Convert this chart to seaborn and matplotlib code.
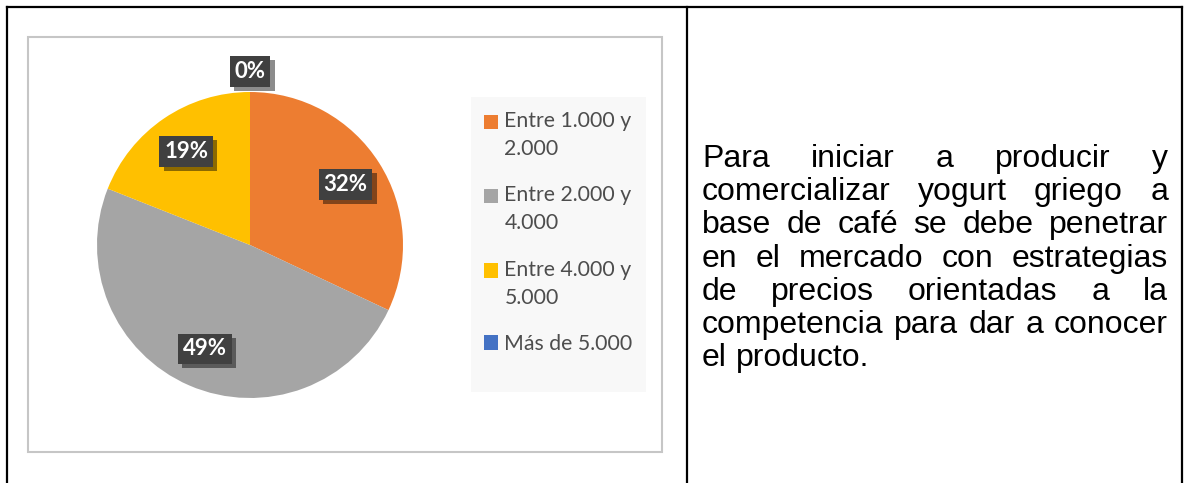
import matplotlib
matplotlib.use("Agg")
import matplotlib.pyplot as plt
import matplotlib.patheffects as pe
from matplotlib.patches import Rectangle
from matplotlib.lines import Line2D
import seaborn as sns
import numpy as np

# %% Data
categories = ["Entre 1.000 y\n2.000", "Entre 2.000 y\n4.000",
              "Entre 4.000 y\n5.000", "Más de 5.000"]
percentages = [32, 49, 19, 0]
slice_colors = ["#ED7D31", "#A5A5A5", "#FFC000", "#4472C4"]
paragraph_lines = ["Para iniciar a producir y",
                   "comercializar yogurt griego a",
                   "base de café se debe penetrar",
                   "en el mercado con estrategias",
                   "de precios orientadas a la",
                   "competencia para dar a conocer",
                   "el producto."]

# %% Figure setup
W, H = 1185, 483
sns.set_theme(style="white")
plt.rcParams['font.family'] = ['Lato', 'DejaVu Sans']
fig = plt.figure(figsize=(W / 100, H / 100), dpi=100)
fig.patch.set_facecolor("white")

def fx(px):  # pixel -> figure fraction (x)
    return px / W

def fy(py):  # pixel from top -> figure fraction (y)
    return 1 - py / H

# Table borders (black) and chart frame (gray)
for x0, y0, x1, y1 in [(6.5, 6.5, 1182, 6.5), (6.5, 6.5, 6.5, H),
                       (686.5, 6.5, 686.5, H), (1182, 6.5, 1182, H)]:
    fig.add_artist(Line2D([fx(x0), fx(x1)], [fy(y0), fy(y1)], color="black",
                          lw=1.6, transform=fig.transFigure, solid_capstyle="projecting"))
fig.add_artist(Rectangle((fx(28), fy(452)), fx(662) - fx(28), fy(37) - fy(452),
                         transform=fig.transFigure, fill=False, ec="#c6c6c6", lw=1.5))
# legend background
fig.add_artist(Rectangle((fx(471), fy(392)), fx(646) - fx(471), fy(97) - fy(392),
                         transform=fig.transFigure, fc="#f8f8f8", ec="none", zorder=0))

# %% Pie
R = 153
cx, cy = 250, 245
ax = fig.add_axes([fx(cx - 1.2 * R), fy(cy + 1.2 * R), 2.4 * R / W, 2.4 * R / H])
wedges, texts, autotexts = ax.pie(percentages, colors=slice_colors, startangle=90,
                                  counterclock=False, autopct='%1.0f%%',
                                  pctdistance=0.74, wedgeprops=dict(linewidth=0),
                                  textprops=dict(color="white", fontsize=16,
                                                 fontweight="bold"))
ax.set_xlim(-1.2, 1.2)
ax.set_ylim(-1.2, 1.2)
ax.axis("off")

for w, t, v in zip(wedges, autotexts, percentages):
    if v < 3:
        ang = np.deg2rad((w.theta1 + w.theta2) / 2)
        t.set_position((1.135 * np.cos(ang), 1.135 * np.sin(ang)))
    t.set_bbox(dict(boxstyle="square,pad=0.22", fc="#404040", ec="none"))
    t.get_bbox_patch().set_path_effects([
        pe.SimplePatchShadow(offset=(3, -3), shadow_rgbFace="black", alpha=0.45),
        pe.Normal()])

leg_fs = 15.3
line_pitch_pt = 27.5 * 0.72
leg = fig.legend(wedges, categories, loc="upper left",
                 bbox_to_anchor=(fx(484), fy(111)), frameon=False, fontsize=leg_fs,
                 handlelength=0.66, handleheight=0.66, handletextpad=0.3,
                 labelspacing=1.24, borderpad=0, borderaxespad=0)
for t, h, lab in zip(leg.get_texts(), leg.legend_handles, categories):
    t.set_color("#4d4d4d")
    t.set_linespacing(1.5)
    # keep the colour square next to the first line of the label
    n = lab.count("\n") + 1
    h.set_y(h.get_y() + (n - 1) / 2 * line_pitch_pt)

# %% Justified paragraph on the right
fig.canvas.draw()
renderer = fig.canvas.get_renderer()
para_font = dict(fontsize=23, family=["Liberation Sans", "DejaVu Sans"], color="black")
x_left, x_right = 702, 1168
base0, step = 167, 33.2

def word_width(word):
    t = fig.text(0, 0, word, **para_font)
    w = t.get_window_extent(renderer).width
    t.remove()
    return w

for i, line in enumerate(paragraph_lines):
    words = line.split()
    widths = [word_width(w) for w in words]
    yb = base0 + i * step
    if i < len(paragraph_lines) - 1 and len(words) > 1:
        gap = (x_right - x_left - sum(widths)) / (len(words) - 1)
    else:
        gap = word_width("a b") - word_width("a") - word_width("b")
    x = x_left
    for w, wd in zip(words, widths):
        fig.text(fx(x), fy(yb), w, va="baseline", ha="left", **para_font)
        x += wd + gap

fig.savefig("out.png", dpi=100)
